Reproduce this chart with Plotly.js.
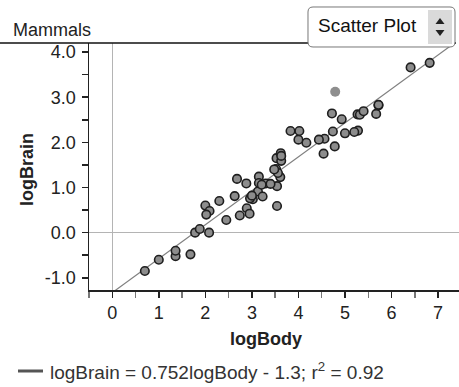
<!DOCTYPE html>
<html><head><meta charset="utf-8">
<script src="https://cdn.plot.ly/plotly-3.0.1.min.js"></script>
<style>html,body{margin:0;padding:0;background:#fff;overflow:hidden}#chart{width:459px;height:387px}</style>
</head><body><div id="chart"></div>
<script>
// Mammals: log10 body mass (g) vs log10 brain mass (g)
const species = ["Arctic fox","Owl monkey","Mountain beaver","Cow","Grey wolf","Goat","Roe deer","Guinea pig","Verbet","Chinchilla","Ground squirrel","Arctic ground squirrel","African giant pouched rat","Lesser short-tailed shrew","Star-nosed mole","Nine-banded armadillo","Tree hyrax","N.A. opossum","Asian elephant","Big brown bat","Donkey","Horse","European hedgehog","Patas monkey","Cat","Galago","Genet","Giraffe","Gorilla","Grey seal","Rock hyrax","Human","African elephant","Water opossum","Rhesus monkey","Kangaroo","Yellow-bellied marmot","Golden hamster","Mouse","Little brown bat","Slow loris","Okapi","Rabbit","Sheep","Jaguar","Chimpanzee","Baboon","Desert hedgehog","Giant armadillo","Rock hyrax 2","Raccoon","Rat","E. American mole","Mole rat","Musk shrew","Pig","Echidna","Brazilian tapir","Tenrec","Phalanger","Tree shrew","Red fox"];
const logBody = [3.53,2.68,3.13,5.67,4.56,4.44,4.17,3.02,3.62,2.63,2.00,2.96,3.00,0.70,1.78,3.54,3.30,3.23,6.41,1.36,5.27,5.72,2.89,4.00,3.52,2.30,3.15,5.72,5.32,4.93,2.88,4.79,6.82,3.54,3.83,4.54,3.61,2.08,1.36,1.00,3.15,5.40,3.40,4.74,5.00,4.72,4.02,2.74,4.78,3.56,3.63,2.45,1.88,2.09,1.68,5.28,3.48,5.20,2.95,3.21,2.02,3.63];
const logBrain = [1.65,1.19,0.91,2.63,2.08,2.06,1.99,0.74,1.76,0.81,0.60,0.76,0.82,-0.85,0.00,1.03,1.09,0.80,3.66,-0.52,2.62,2.82,0.54,2.06,1.41,0.70,1.24,2.83,2.61,2.51,1.09,3.12,3.76,0.59,2.25,1.75,1.23,0.00,-0.40,-0.60,1.10,2.69,1.08,2.24,2.20,2.64,2.25,0.38,1.91,1.32,1.59,0.28,0.08,0.48,-0.48,2.26,1.40,2.23,0.42,1.06,0.40,1.70];
const highlighted = ["Human"];
const xTickLabels = ['0','1','2','3','4','5','6','7'];
const yTickLabels = ['-1.0','0.0','1.0','2.0','3.0','4.0'];
const xTitle = "logBody", yTitle = "logBrain", chartTitle = "Mammals", menuLabel = "Scatter Plot";
const fitLabel = "logBrain = 0.752logBody - 1.3; r<sup>2</sup> = 0.92";

// split points
const nx=[],ny=[],hx=[],hy=[];
species.forEach((s,i)=>{ if(highlighted.includes(s)){hx.push(logBody[i]);hy.push(logBrain[i]);} else {nx.push(logBody[i]);ny.push(logBrain[i]);} });
// least squares fit
const n=logBody.length, mx=logBody.reduce((a,b)=>a+b)/n, my=logBrain.reduce((a,b)=>a+b)/n;
let sxy=0,sxx=0; for(let i=0;i<n;i++){sxy+=(logBody[i]-mx)*(logBrain[i]-my);sxx+=(logBody[i]-mx)**2;}
const slope=sxy/sxx, icpt=my-slope*mx;
const xr=[-0.5,7.45], yr=[-1.27,4.2];
const fx=[xr[0],xr[1]], fy=fx.map(x=>slope*x+icpt);

const W=459,H=387,L=89,R=0,T=43,B=97, pw=W-L-R, ph=H-T-B;
const px=x=>(x-L)/pw, py=y=>(H-B-y)/ph;
function rrect(x0,y0,x1,y1,r){
  const P=(x,y)=>px(x).toFixed(5)+","+py(y).toFixed(5);
  return "M"+P(x0+r,y0)+" L"+P(x1-r,y0)+" Q"+P(x1,y0)+" "+P(x1,y0+r)+" L"+P(x1,y1-r)+" Q"+P(x1,y1)+" "+P(x1-r,y1)+" L"+P(x0+r,y1)+" Q"+P(x0,y1)+" "+P(x0,y1-r)+" L"+P(x0,y0+r)+" Q"+P(x0,y0)+" "+P(x0+r,y0)+" Z";
}
function tri(cx,cy,w,h,up){
  const P=(x,y)=>px(x).toFixed(5)+","+py(y).toFixed(5);
  return up ? "M"+P(cx-w/2,cy+h/2)+" L"+P(cx+w/2,cy+h/2)+" L"+P(cx,cy-h/2)+" Z"
            : "M"+P(cx-w/2,cy-h/2)+" L"+P(cx+w/2,cy-h/2)+" L"+P(cx,cy+h/2)+" Z";
}
const FONT="Liberation Sans, Arial, sans-serif";
const traces=[
  {x:fx,y:fy,mode:'lines',line:{color:'#808080',width:1.2},hoverinfo:'skip',showlegend:false},
  {x:nx,y:ny,mode:'markers',marker:{size:8.5,color:'#8c8c8c',line:{color:'#1e1e1e',width:1.6}},showlegend:false},
  {x:hx,y:hy,mode:'markers',marker:{size:10,color:'#8e8e8e',line:{width:0}},showlegend:false}
];
const layout={
  width:W,height:H,margin:{l:L,r:R,t:T,b:B,pad:0},
  paper_bgcolor:'#fff',plot_bgcolor:'#fff',showlegend:false,
  font:{family:FONT,size:18,color:'#222'},
  xaxis:{range:xr,tickvals:[0,1,2,3,4,5,6,7],ticktext:xTickLabels,ticks:'outside',ticklen:6,tickwidth:1.5,tickcolor:'#222',
    minor:{tickvals:[-0.5,0.5,1.5,2.5,3.5,4.5,5.5,6.5],ticks:'outside',ticklen:6,tickwidth:1.5,tickcolor:'#777'},
    showline:true,linecolor:'#222',linewidth:1.5,showgrid:false,zeroline:true,zerolinecolor:'#b4b4b4',zerolinewidth:1,
    tickfont:{size:18,color:'#222'},fixedrange:true},
  yaxis:{range:yr,tickvals:[-1,0,1,2,3,4],ticktext:yTickLabels,ticks:'outside',ticklen:6,tickwidth:1.5,tickcolor:'#222',
    minor:{tickvals:[-0.5,0.5,1.5,2.5,3.5],ticks:'outside',ticklen:6,tickwidth:1.5,tickcolor:'#222'},
    showline:true,linecolor:'#222',linewidth:1.5,showgrid:false,zeroline:true,zerolinecolor:'#b4b4b4',zerolinewidth:1,
    tickfont:{size:18,color:'#222'},ticklabelstandoff:2,fixedrange:true},
  shapes:[
    {type:'line',xref:'paper',yref:'paper',x0:px(0),x1:px(456),y0:py(43),y1:py(43),line:{color:'#111',width:1.5}},
    {type:'path',xref:'paper',yref:'paper',path:rrect(308,7,455,47,5),fillcolor:'#fff',line:{color:'#777',width:1}},
    {type:'rect',xref:'paper',yref:'paper',x0:px(428),x1:px(452),y0:py(10),y1:py(44),fillcolor:'#dadada',line:{width:0}},
    {type:'path',xref:'paper',yref:'paper',path:tri(440,21,9,6,true),fillcolor:'#222',line:{width:0}},
    {type:'path',xref:'paper',yref:'paper',path:tri(440,33,9,6,false),fillcolor:'#222',line:{width:0}},
    {type:'line',xref:'paper',yref:'paper',x0:px(18),x1:px(43),y0:py(371),y1:py(371),line:{color:'#555',width:3}}
  ],
  annotations:[
    {text:chartTitle,xref:'paper',yref:'paper',x:px(11),y:py(30),xanchor:'left',yanchor:'middle',showarrow:false,font:{size:18,color:'#222'}},
    {text:menuLabel,xref:'paper',yref:'paper',x:px(316),y:py(26),xanchor:'left',yanchor:'middle',showarrow:false,font:{size:19,color:'#111'}},
    {text:'<b>'+yTitle+'</b>',xref:'paper',yref:'paper',x:px(27),y:py(170),xanchor:'center',yanchor:'middle',textangle:-90,showarrow:false,font:{size:18,color:'#222'}},
    {text:'<b>'+xTitle+'</b>',xref:'paper',yref:'paper',x:px(266),y:py(339),xanchor:'center',yanchor:'middle',showarrow:false,font:{size:18,color:'#222'}},
    {text:fitLabel,xref:'paper',yref:'paper',x:px(48),y:py(371),xanchor:'left',yanchor:'middle',showarrow:false,font:{size:19,color:'#333'}}
  ]
};
Plotly.newPlot('chart',traces,layout,{displayModeBar:false,staticPlot:true});
</script></body></html>
